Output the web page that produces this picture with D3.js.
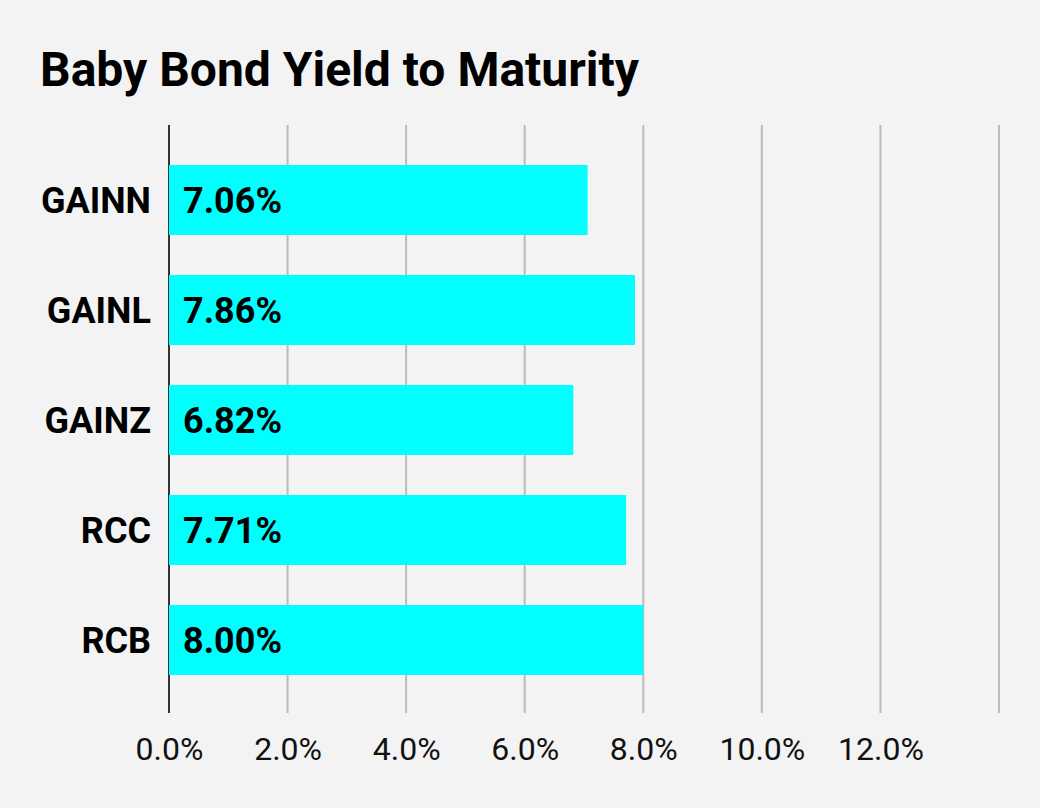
<!DOCTYPE html>
<html>
<head>
<meta charset="utf-8">
<script src="https://cdn.jsdelivr.net/npm/d3@7"></script>
<style>
  body { margin: 0; background: #f3f3f3; }
  svg { display: block; font-family: Roboto, sans-serif; }
</style>
</head>
<body>
<svg id="chart" width="1040" height="808"></svg>
<script>
// Data
const tickers = ["GAINN", "GAINL", "GAINZ", "RCC", "RCB"];
const yields = [7.06, 7.86, 6.82, 7.71, 8.0];
const tickValues = [0, 2, 4, 6, 8, 10, 12, 14];
const tickLabels = ["0.0%", "2.0%", "4.0%", "6.0%", "8.0%", "10.0%", "12.0%", ""];

const data = tickers.map((t, i) => ({ ticker: t, value: yields[i] }));

const svg = d3.select("#chart");

svg.append("rect").attr("width", 1040).attr("height", 808).attr("fill", "#f3f3f3");

// Title
svg.append("text")
  .attr("x", 40)
  .attr("y", 86)
  .attr("font-size", 48)
  .attr("font-weight", "bold")
  .attr("fill", "#000")
  .text("Baby Bond Yield to Maturity");

// Scales
const xScale = d3.scaleLinear().domain([0, 14]).range([169, 999]);

const yScale = d3.scaleBand()
  .domain(tickers)
  .range([125, 715])
  .paddingInner(0.3636)
  .paddingOuter(0.3636);

// Gridlines
svg.append("g")
  .selectAll("line")
  .data(tickValues)
  .join("line")
  .attr("x1", (d) => xScale(d))
  .attr("x2", (d) => xScale(d))
  .attr("y1", 125)
  .attr("y2", 713)
  .attr("stroke", (d) => (d === 0 ? "#333" : "#bbb"))
  .attr("stroke-width", 2);

// Bars
svg.append("g")
  .selectAll("rect")
  .data(data)
  .join("rect")
  .attr("x", xScale(0))
  .attr("y", (d) => yScale(d.ticker))
  .attr("width", (d) => xScale(d.value) - xScale(0))
  .attr("height", yScale.bandwidth())
  .attr("fill", "#00ffff");

// Value labels inside bars
svg.append("g")
  .selectAll("text")
  .data(data)
  .join("text")
  .attr("x", xScale(0) + 14)
  .attr("y", (d) => yScale(d.ticker) + yScale.bandwidth() / 2)
  .attr("dy", "0.36em")
  .attr("font-size", 36)
  .attr("font-weight", "bold")
  .attr("fill", "#000")
  .text((d) => d.value.toFixed(2) + "%");

// Category axis
const yAxis = d3.axisLeft(yScale).tickSize(0).tickPadding(18);
const yg = svg.append("g").attr("transform", `translate(${xScale(0)},0)`).call(yAxis);
yg.select(".domain").remove();
yg.selectAll("text")
  .attr("font-family", "Roboto, sans-serif")
  .attr("font-size", 36)
  .attr("font-weight", "bold")
  .attr("fill", "#000")
  .attr("dy", "0.36em");

// Value axis
const xAxis = d3.axisBottom(xScale)
  .tickValues(tickValues)
  .tickSize(0)
  .tickPadding(0)
  .tickFormat((d, i) => tickLabels[i]);
const xg = svg.append("g").attr("transform", "translate(0,737)").call(xAxis);
xg.select(".domain").remove();
xg.selectAll("text")
  .attr("font-family", "Roboto, sans-serif")
  .attr("font-size", 32)
  .attr("fill", "#111")
  .attr("dy", "0.71em");
</script>
</body>
</html>
